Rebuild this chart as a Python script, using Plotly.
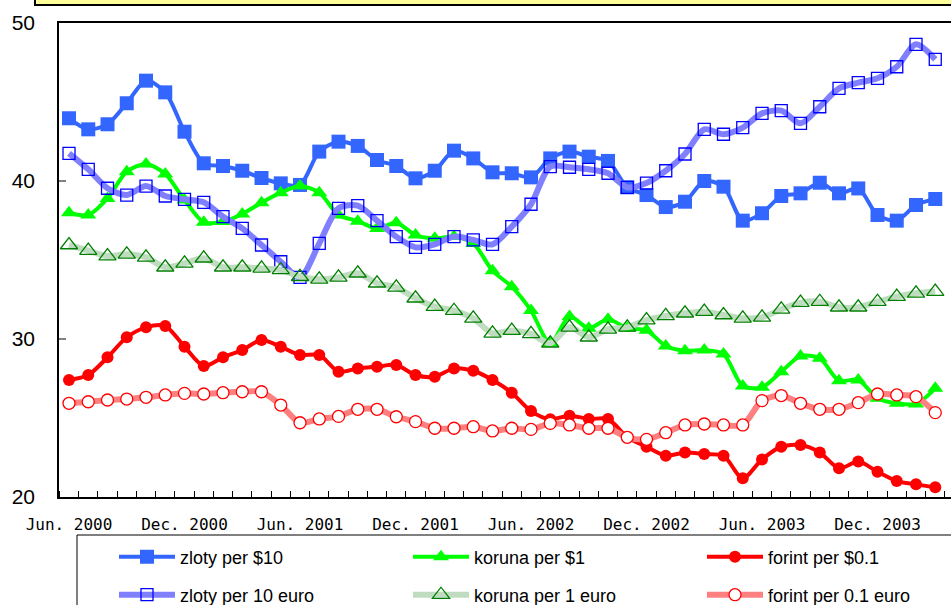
import plotly.graph_objects as go

# Monthly data, Jun. 2000 .. Mar. 2004 (46 months)
tick_labels = ["Jun. 2000", "Dec. 2000", "Jun. 2001", "Dec. 2001",
               "Jun. 2002", "Dec. 2002", "Jun. 2003", "Dec. 2003"]
tick_positions = [0, 6, 12, 18, 24, 30, 36, 42]

zloty_usd = [43.97, 43.27, 43.59, 44.92, 46.35, 45.61, 43.12, 41.12, 40.95, 40.65,
             40.19, 39.85, 39.75, 41.86, 42.49, 42.22, 41.33, 40.95, 40.17, 40.65,
             41.92, 41.43, 40.55, 40.49, 40.23, 41.43, 41.86, 41.54, 41.27, 39.60,
             39.11, 38.35, 38.69, 40.00, 39.64, 37.49, 37.96, 39.05, 39.22, 39.89,
             39.22, 39.53, 37.85, 37.49, 38.48, 38.86]
koruna_usd = [37.99, 37.85, 38.90, 40.59, 41.08, 40.44, 38.80, 37.39, 37.43, 37.91,
              38.63, 39.26, 39.68, 39.26, 37.85, 37.46, 37.00, 37.36, 36.58, 36.37,
              36.48, 36.05, 34.32, 33.31, 31.80, 29.73, 31.42, 30.68, 31.25, 30.68,
              30.55, 29.56, 29.26, 29.30, 29.05, 27.03, 26.94, 27.93, 28.92, 28.78,
              27.36, 27.41, 26.25, 25.93, 25.89, 26.88]
forint_usd = [27.41, 27.72, 28.84, 30.11, 30.74, 30.82, 29.51, 28.29, 28.84, 29.30,
              29.94, 29.51, 28.99, 28.99, 27.93, 28.14, 28.25, 28.35, 27.72, 27.61,
              28.14, 27.99, 27.41, 26.60, 25.44, 24.92, 25.15, 24.94, 24.94, 23.78,
              23.18, 22.61, 22.82, 22.72, 22.61, 21.18, 22.38, 23.18, 23.29, 22.82,
              21.82, 22.24, 21.60, 21.01, 20.80, 20.61]
zloty_eur = [41.75, 40.74, 39.54, 39.11, 39.68, 39.05, 38.84, 38.65, 37.74, 37.00,
             35.95, 34.89, 33.90, 36.05, 38.27, 38.44, 37.49, 36.48, 35.80, 35.99,
             36.48, 36.27, 35.99, 37.11, 38.53, 40.91, 40.87, 40.74, 40.49, 39.60,
             39.87, 40.65, 41.71, 43.27, 42.96, 43.38, 44.28, 44.45, 43.65, 44.70,
             45.86, 46.22, 46.50, 47.23, 48.65, 47.70]
koruna_eur = [35.95, 35.59, 35.25, 35.36, 35.17, 34.54, 34.79, 35.11, 34.54, 34.54,
              34.47, 34.37, 33.94, 33.78, 33.90, 34.16, 33.53, 33.27, 32.58, 32.05,
              31.79, 31.31, 30.36, 30.53, 30.32, 29.73, 30.74, 30.11, 30.61, 30.74,
              31.20, 31.46, 31.63, 31.73, 31.52, 31.31, 31.37, 31.88, 32.30, 32.36,
              32.01, 32.01, 32.36, 32.68, 32.89, 33.00]
forint_eur = [25.93, 26.03, 26.14, 26.20, 26.31, 26.46, 26.56, 26.52, 26.60, 26.66,
              26.66, 25.82, 24.70, 24.94, 25.10, 25.55, 25.55, 25.08, 24.77, 24.35,
              24.35, 24.45, 24.18, 24.35, 24.28, 24.66, 24.56, 24.35, 24.35, 23.78,
              23.65, 24.07, 24.56, 24.62, 24.56, 24.56, 26.10, 26.42, 25.93, 25.55,
              25.55, 25.97, 26.52, 26.46, 26.35, 25.34]

x = list(range(len(zloty_usd)))
FONT = "Liberation Sans, Arial, sans-serif"

W, H = 951, 605
L, R, T, B = 59, 0, 23, 108
pw, ph = W - L - R, H - T - B


def px_x(p):
    return (p - L) / pw


def px_y(p):
    return (H - B - p) / ph


fig = go.Figure()
legend_layout = {}
legend_pos = [(114, 557), (408, 557), (702, 557), (114, 595), (408, 595), (702, 595)]


def add(idx, name, y, line_color, lw, symbol, msize, mcolor, mline_color, mline_w):
    key = "legend" if idx == 0 else "legend%d" % (idx + 1)
    fig.add_trace(go.Scatter(
        x=x, y=y, name=name, mode="lines+markers",
        line=dict(color=line_color, width=lw, shape="spline", smoothing=0.8),
        marker=dict(symbol=symbol, size=msize, color=mcolor,
                    line=dict(color=mline_color, width=mline_w)),
        legend=key))
    lx, ly = legend_pos[idx]
    legend_layout[key] = dict(x=px_x(lx), xanchor="left", y=px_y(ly), yanchor="middle",
                              bgcolor="rgba(0,0,0,0)", borderwidth=0,
                              font=dict(size=18, family=FONT, color="black"),
                              itemwidth=56, orientation="h")


add(0, "zloty per $10", zloty_usd, "#3366FF", 4, "square", 14, "#3366FF", "#3366FF", 0)
add(1, "koruna per $1", koruna_usd, "#00FF00", 4, "triangle-up", 14, "#00FF00", "#00FF00", 0)
add(2, "forint per $0.1", forint_usd, "#FF0000", 4, "circle", 12, "#FF0000", "#FF0000", 0)
add(3, "zloty per 10 euro", zloty_eur, "#8080FF", 6, "square-open", 12, "#0000FF", "#0000FF", 1.3)
add(4, "koruna per 1 euro", koruna_eur, "#C0DCC0", 6, "triangle-up-open", 15, "#008000", "#008000", 1.3)
add(5, "forint per 0.1 euro", forint_eur, "#FF8080", 6, "circle", 12, "#FFFFFF", "#FF0000", 1.3)

minor_vals = [k + 0.5 for k in range(-1, 46)]

fig.update_layout(
    width=W, height=H,
    margin=dict(l=L, r=R, t=T, b=B, autoexpand=False),
    plot_bgcolor="white", paper_bgcolor="white",
    font=dict(family=FONT, color="black"),
    showlegend=True,
    xaxis=dict(range=[-0.52, -0.52 + pw / 19.25], tickmode="array",
               tickvals=tick_positions, ticktext=tick_labels, ticks="",
               tickfont=dict(size=16, family="DejaVu Sans Mono, monospace"),
               showgrid=False, zeroline=False,
               showline=True, linecolor="black", linewidth=1.5, mirror=True,
               ticklabelstandoff=12,
               minor=dict(tickmode="array", tickvals=minor_vals, ticks="inside",
                          ticklen=6, tickcolor="black", tickwidth=1, showgrid=False)),
    yaxis=dict(range=[20, 50], tickmode="array", tickvals=[20, 30, 40, 50],
               ticks="inside", ticklen=7, tickcolor="#808080", tickwidth=1.5,
               tickfont=dict(size=21), showgrid=False, zeroline=False,
               showline=True, linecolor="black", linewidth=1.5, mirror=False,
               ticklabelstandoff=18),
    shapes=[
        dict(type="rect", xref="paper", yref="paper", x0=px_x(35), x1=1.1,
             y0=px_y(5), y1=px_y(-20), fillcolor="#FFFF99",
             line=dict(color="black", width=2), layer="above"),
        dict(type="rect", xref="paper", yref="paper", x0=px_x(77), x1=1.1,
             y0=px_y(535), y1=px_y(640), fillcolor="rgba(0,0,0,0)",
             line=dict(color="black", width=1), layer="below"),
    ],
    **legend_layout,
)

fig.write_html("out.html", config={"displayModeBar": False},
               post_script="document.body.style.margin='0';")
